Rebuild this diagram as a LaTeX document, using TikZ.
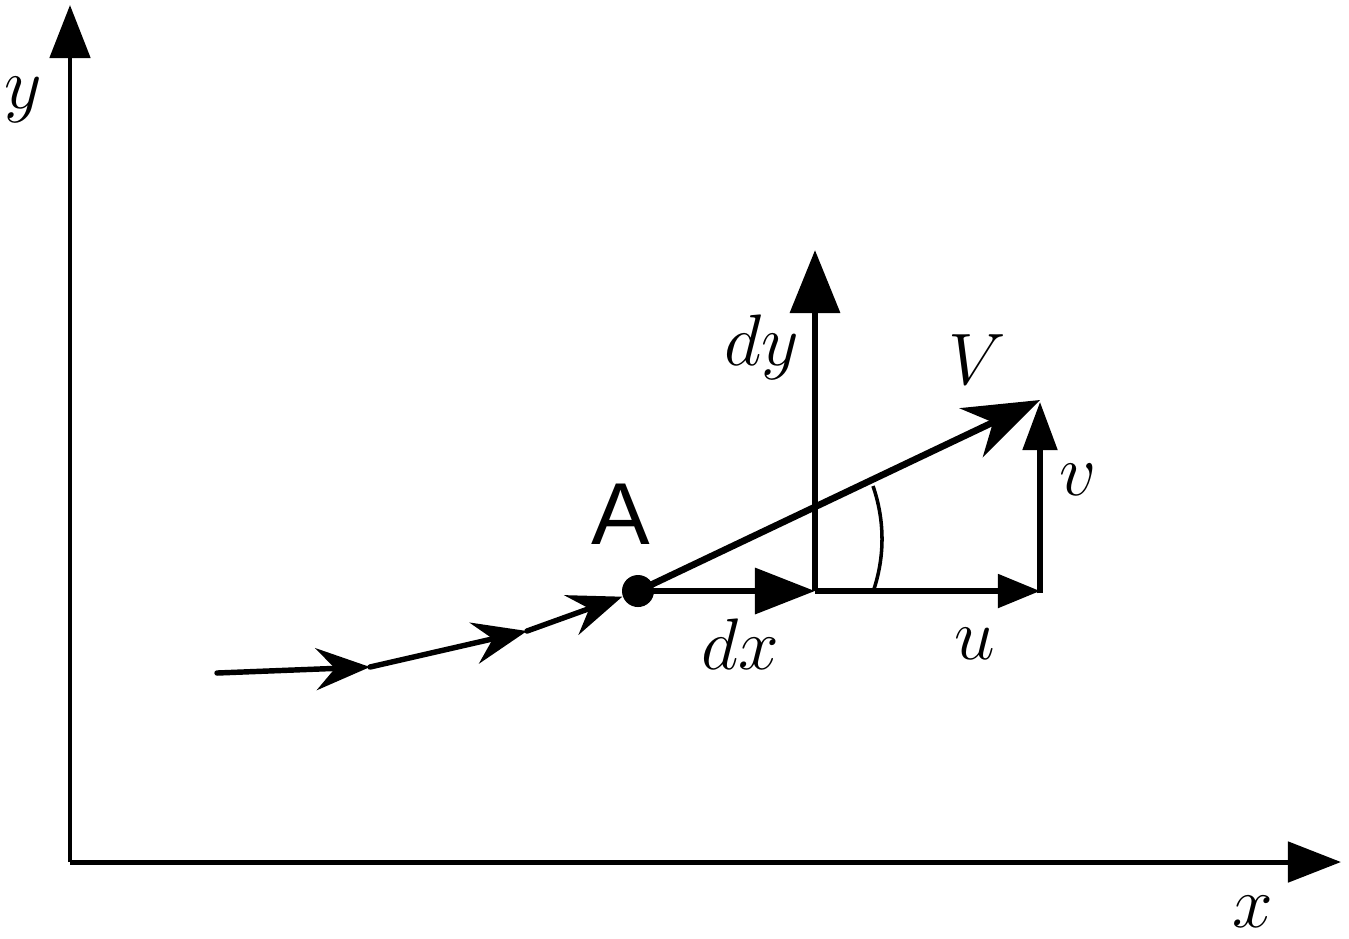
\documentclass[tikz,border=0pt]{standalone}
\usepackage{fontspec}
\newfontfamily\labsans{Liberation Sans}
\usetikzlibrary{arrows.meta}
\begin{document}
\begin{tikzpicture}[x=0.01cm,y=-0.01cm,
  ax/.style={line width=1.42pt,-{Triangle[length=0.53cm,width=0.40cm]}},
  thickvec/.style={line width=1.9pt},
  thinvec/.style={line width=1.45pt},
  stream/.style={line width=1.55pt,line cap=round,-{Stealth[length=0.54cm,width=0.42cm,inset=0.19cm]}},
  mlab/.style={font=\fontsize{20}{24}\selectfont,inner sep=0pt}]
\useasboundingbox (0,0) rectangle (1349,938);
% axes
\coordinate (O) at (70,862);
\coordinate (Ytop) at (70,5);
\coordinate (Xend) at (1341,862);
\draw[ax] (O) -- (Ytop);
\draw[ax] (O) -- (Xend);
\node[mlab,font=\fontsize{21}{25}\selectfont] (ylab) at (23,100) {$y$};
\node[mlab] (xlab) at (1253,912) {$x$};
% point A
\node[circle,fill,inner sep=0pt,minimum size=0.32cm] (A) at (638,591) {};
\node[font=\labsans\fontsize{25}{30}\selectfont,inner sep=0pt] (Alab) at (621,514) {A};
% streamline
\coordinate (s0) at (217,673);
\coordinate (s1) at (370,667);
\coordinate (s2) at (527,631);
\draw[stream] (s0) -- (s1);
\draw[stream] (s1) -- (s2);
\draw[stream] (s2) -- (A);
% dx and dy
\coordinate (B) at (815,591);
\coordinate (dyTop) at (815,250);
\draw[thickvec,-{Triangle[length=0.60cm,width=0.45cm]}] (A.center) -- (B);
\draw[thickvec,-{Triangle[length=0.63cm,width=0.49cm]}] (B) -- (dyTop);
\node[mlab] (dxlab) at (740,644) {$dx$};
\node[mlab] (dylab) at (762,347) {$dy$};
% V
\coordinate (Vt) at (1040,400);
\draw[thickvec,-{Stealth[length=0.76cm,width=0.54cm,inset=0.24cm]}] (A.center) -- (Vt);
\node[mlab] (Vlab) at (977,360) {$V$};
% u and v
\coordinate (C) at (1040,591);
\draw[thinvec,-{Triangle[length=0.42cm,width=0.33cm]}] (B) -- (C);
\draw[thinvec,-{Triangle[length=0.48cm,width=0.34cm]}] ([yshift=-0.7pt]C) -- (1040,402);
\node[mlab] (ulab) at (975,644) {$u$};
\node[mlab] (vlab) at (1078,480) {$v$};
% angle arc
\coordinate (arcT) at (873,486);
\coordinate (arcB) at (873,592);
\draw[line width=1pt] (arcT) .. controls (885,521) and (885,557) .. (arcB);
\end{tikzpicture}
\end{document}
